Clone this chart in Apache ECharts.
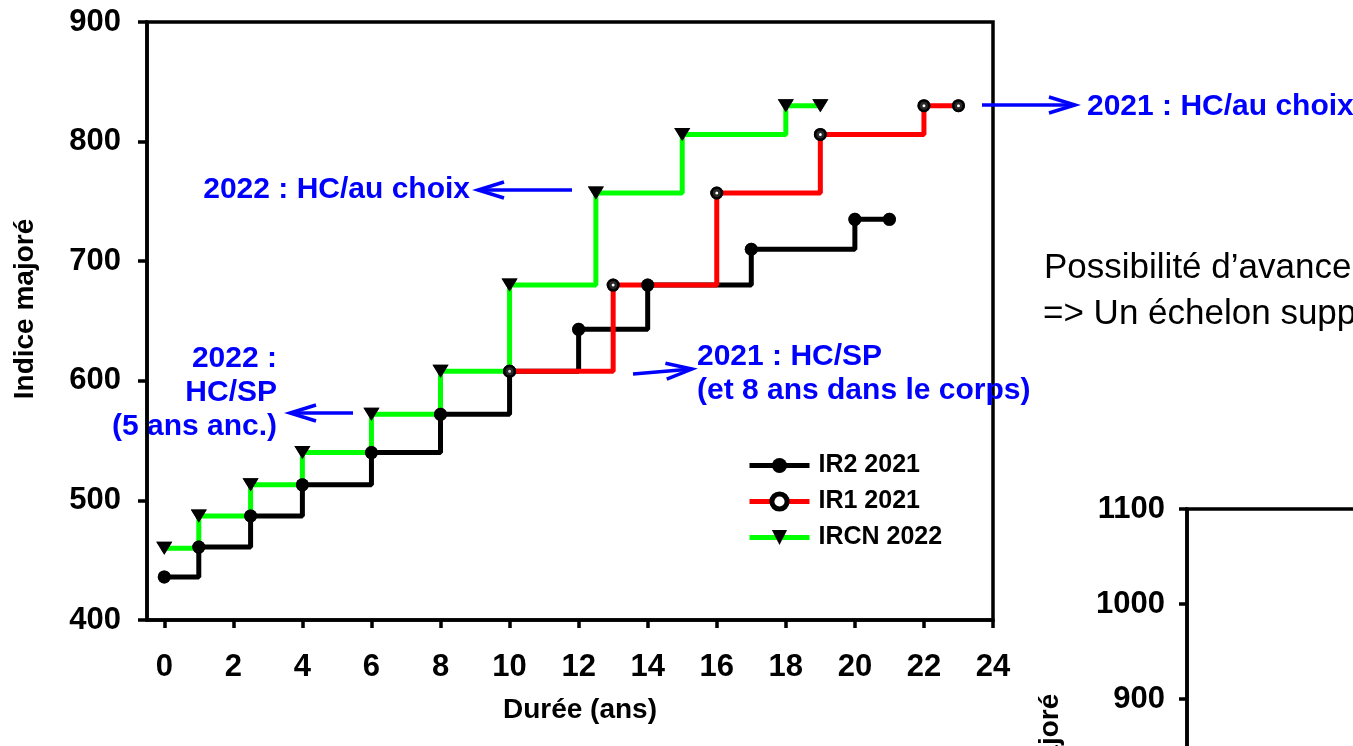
<!DOCTYPE html>
<html><head><meta charset="utf-8">
<script src="https://cdn.jsdelivr.net/npm/echarts@6/dist/echarts.min.js"></script>
<style>html,body{margin:0;padding:0;background:#fff}#c{width:1353px;height:746px}</style>
</head><body><div id="c"></div>
<script>
// ---- data ----
const seriesNames = ['IR2 2021', 'IR1 2021', 'IRCN 2022'];
const ir2X = [0, 1, 2.5, 4, 6, 8, 10, 12, 14, 17, 20, 21];
const ir2Y = [436, 461, 487, 513, 540, 572, 608, 643, 680, 710, 735, 735];
const ir1X = [10, 13, 16, 19, 22, 23];
const ir1Y = [608, 680, 757, 806, 830, 830];
const ircnX = [0, 1, 2.5, 4, 6, 8, 10, 12.5, 15, 18, 19];
const ircnY = [460, 487, 513, 540, 572, 608, 680, 757, 806, 830, 830];
const xTicks = [0, 2, 4, 6, 8, 10, 12, 14, 16, 18, 20, 22, 24];
const xName = 'Durée (ans)';
const yName = 'Indice majoré';
const notes = {
  hcChoix2022: '2022 : HC/au choix',
  hcChoix2021: '2021 : HC/au choix',
  hcSp2021: ['2021 : HC/SP', '(et 8 ans dans le corps)'],
  hcSp2022: ['2022 :', 'HC/SP', '(5 ans anc.)'],
  side: ['Possibilité d’avancement', '=> Un échelon supplémentaire']
};

const FONT = '"Liberation Sans", Arial, Helvetica, sans-serif';
const BLUE = '#0000ff';
const zip = (xs, ys) => xs.map((x, i) => [x, ys[i]]);

function arrow(x1, y1, x2, y2) {
  const dx = x2 - x1, dy = y2 - y1, L = Math.hypot(dx, dy);
  const ux = dx / L, uy = dy / L, hl = 26, hw = 8;
  const bx = x2 - ux * hl, by = y2 - uy * hl;
  const st = { stroke: BLUE, lineWidth: 3.5, fill: null };
  return [
    { type: 'polyline', shape: { points: [[x1, y1], [x2, y2]] }, style: st },
    { type: 'polyline', shape: { points: [[bx - uy * hw, by + ux * hw], [x2, y2], [bx + uy * hw, by - ux * hw]] }, style: st }
  ];
}
function txt(x, y, text, align, opts) {
  return Object.assign({ type: 'text', x: x, y: y, style: {
    text: text, fill: BLUE, font: 'bold 30px ' + FONT, align: align, verticalAlign: 'middle' } }, opts || {});
}

const nameText = { color: '#000', fontFamily: FONT, fontWeight: 'bold', fontSize: 28 };
const tickText = { color: '#000', fontFamily: FONT, fontWeight: 'bold', fontSize: 31 };
const lineCommon = { type: 'line', step: 'end', xAxisIndex: 0, yAxisIndex: 0, z: 2 };
const markCommon = { type: 'scatter', xAxisIndex: 0, yAxisIndex: 0, z: 5, silent: true };

const graphics = [].concat(
  [txt(470, 190, notes.hcChoix2022, 'right')], arrow(572, 190, 478, 190),
  [txt(1087, 107, notes.hcChoix2021, 'left')], arrow(982, 105, 1075, 105),
  [txt(697, 357, notes.hcSp2021[0], 'left'), txt(697, 391, notes.hcSp2021[1], 'left')], arrow(633, 374, 692, 369),
  [txt(277, 359, notes.hcSp2022[0], 'right'), txt(277, 393, notes.hcSp2022[1], 'right'), txt(277, 427, notes.hcSp2022[2], 'right')],
  arrow(353, 413, 290, 413),
  [
    { type: 'text', x: 1044, y: 268, style: { text: notes.side[0], fill: '#000', font: '35px ' + FONT, align: 'left', verticalAlign: 'middle' } },
    { type: 'text', x: 1043, y: 314, style: { text: notes.side[1], fill: '#000', font: '35px ' + FONT, align: 'left', verticalAlign: 'middle' } },
    { type: 'text', x: 1050, y: 784, rotation: Math.PI / 2, style: { text: yName, fill: '#000', font: 'bold 28px ' + FONT, align: 'center', verticalAlign: 'middle' } }
  ]
);

const chart = echarts.init(document.getElementById('c'), null, { renderer: 'canvas' });
chart.setOption({
  animation: false,
  backgroundColor: '#fff',
  grid: [
    { left: 147, top: 22, width: 846, height: 598, show: true, borderColor: '#000', borderWidth: 3.5, outerBoundsMode: 'none', containLabel: false },
    { left: 1187, top: 509, width: 300, height: 475, show: true, borderColor: '#000', borderWidth: 3.5, outerBoundsMode: 'none', containLabel: false }
  ],
  legend: {
    data: [
      { name: seriesNames[0] },
      { name: seriesNames[1], itemStyle: { color: '#fff', borderColor: '#000', borderWidth: 5 } },
      { name: seriesNames[2] }
    ],
    orient: 'vertical', left: 742, top: 448,
    itemWidth: 60, itemHeight: 19, itemGap: 11, symbolRotate: 'inherit',
    lineStyle: { width: 5 },
    textStyle: { color: '#000', fontFamily: FONT, fontWeight: 'bold', fontSize: 25, lineHeight: 20, padding: [0, 0, 0, 4] }
  },
  xAxis: [
    { gridIndex: 0, type: 'value', min: -0.5, max: 24, splitLine: { show: false },
      axisLine: { show: true, onZero: false, lineStyle: { color: '#000', width: 3.5 } },
      axisTick: { show: true, customValues: xTicks, length: 8, lineStyle: { color: '#000', width: 3.5 } },
      axisLabel: Object.assign({ customValues: xTicks, margin: 32 }, tickText),
      name: xName, nameLocation: 'middle', nameGap: 76,
      nameTextStyle: Object.assign({ padding: [0, 0, 0, 20] }, nameText) },
    { gridIndex: 1, type: 'value', min: 0, max: 10, show: false }
  ],
  yAxis: [
    { gridIndex: 0, type: 'value', min: 400, max: 900, interval: 100, splitLine: { show: false },
      axisLine: { show: true, onZero: false, lineStyle: { color: '#000', width: 3.5 } },
      axisTick: { show: true, length: 9, lineStyle: { color: '#000', width: 3.5 } },
      axisLabel: Object.assign({ margin: 26 }, tickText),
      name: yName, nameLocation: 'middle', nameGap: 108,
      nameTextStyle: Object.assign({ padding: [0, 0, 0, 24] }, nameText) },
    { gridIndex: 1, type: 'value', min: 600, max: 1100, interval: 100, splitLine: { show: false },
      axisLine: { show: true, onZero: false, lineStyle: { color: '#000', width: 3.5 } },
      axisTick: { show: true, length: 8, lineStyle: { color: '#000', width: 3.5 } },
      axisLabel: Object.assign({ margin: 22, formatter: v => String(v) }, tickText) }
  ],
  graphic: graphics,
  series: [
    Object.assign({}, lineCommon, { name: seriesNames[0], data: zip(ir2X, ir2Y),
      lineStyle: { color: '#000', width: 5 }, itemStyle: { color: '#000' },
      symbol: 'circle', symbolSize: 13 }),
    Object.assign({}, lineCommon, { name: seriesNames[1], data: zip(ir1X, ir1Y),
      lineStyle: { color: '#ff0000', width: 5 }, itemStyle: { color: '#fff', borderColor: '#000', borderWidth: 5 },
      symbol: 'circle', symbolSize: 8 }),
    Object.assign({}, lineCommon, { name: seriesNames[2], data: zip(ircnX, ircnY),
      lineStyle: { color: '#00ff00', width: 5 }, itemStyle: { color: '#000' },
      symbol: 'triangle', symbolRotate: 180, symbolSize: [16, 13] }),
    Object.assign({}, markCommon, { name: 'm0', data: zip(ir2X, ir2Y), symbol: 'circle', symbolSize: 13, itemStyle: { color: '#000' } }),
    Object.assign({}, markCommon, { name: 'm1', data: zip(ir1X, ir1Y), symbol: 'circle', symbolSize: 8,
      itemStyle: { color: '#fff', borderColor: '#000', borderWidth: 5 } }),
    Object.assign({}, markCommon, { name: 'm2', data: zip(ircnX, ircnY), symbol: 'triangle', symbolRotate: 180, symbolSize: [16, 13], itemStyle: { color: '#000' } })
  ]
});
</script>
</body></html>
